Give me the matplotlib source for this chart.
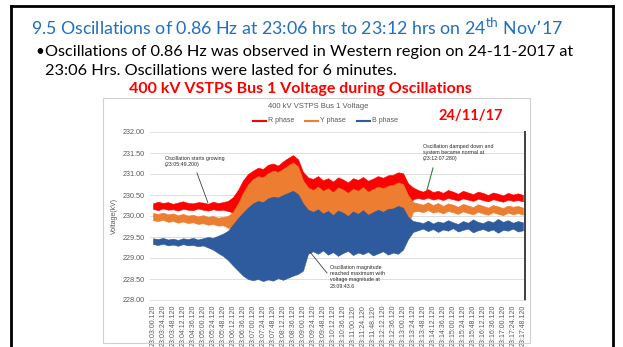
import matplotlib.pyplot as plt
from matplotlib.patches import Rectangle
from matplotlib.lines import Line2D
import numpy as np

W, H = 623, 347

# sample positions along the category axis (one unit per time label)
pos = np.arange(0, 37.01, 0.5)

# R phase envelope (kV)
r_hi = [230.30, 230.34, 230.31, 230.33, 230.29, 230.32, 230.35, 230.31, 230.30, 230.33,
        230.32, 230.29, 230.34, 230.31, 230.33,
        230.36, 230.45, 230.62, 230.85, 231.00, 231.08, 231.15, 231.12, 231.22, 231.25,
        231.20, 231.30, 231.38, 231.45, 231.35, 231.05, 230.92,
        230.88, 230.95, 230.85, 230.90, 230.82, 230.92, 230.87, 230.80, 230.90, 230.86,
        230.93, 230.84, 230.89, 230.95, 230.91, 230.97, 230.98, 231.04, 231.02, 230.78,
        230.68,
        230.62, 230.58, 230.64, 230.57, 230.60, 230.55, 230.62, 230.58, 230.53, 230.60,
        230.56, 230.52, 230.58, 230.55, 230.50, 230.56, 230.53, 230.49, 230.55, 230.51,
        230.54, 230.50]
r_lo = [230.17, 230.14, 230.18, 230.15, 230.16, 230.13, 230.17, 230.15, 230.14, 230.18,
        230.15, 230.13, 230.16, 230.14, 230.15,
        230.12, 230.08, 230.00, 229.95, 229.95, 229.95, 229.95, 229.95, 229.95, 229.95,
        229.95, 229.95, 229.95, 229.95, 229.95, 229.95, 229.95,
        229.95, 229.95, 229.95, 229.95, 229.95, 229.95, 229.95, 229.95, 229.95, 229.95,
        229.95, 229.95, 229.95, 229.95, 229.95, 229.95, 229.95, 229.95, 229.95, 230.10,
        230.40,
        230.43, 230.40, 230.44, 230.39, 230.42, 230.38, 230.43, 230.40, 230.37, 230.42,
        230.39, 230.36, 230.41, 230.38, 230.35, 230.40, 230.37, 230.34, 230.39, 230.36,
        230.38, 230.35]

# Y phase envelope (kV)
y_hi = [230.07, 230.05, 230.08, 230.04, 230.06, 230.02, 230.05, 230.01, 230.03, 229.99,
        230.02, 229.98, 230.00, 229.96, 229.98,
        230.00, 230.10, 230.30, 230.55, 230.75, 230.88, 230.95, 230.92, 231.02, 231.08,
        231.05, 231.12, 231.20, 231.28, 231.18, 230.85, 230.68,
        230.62, 230.70, 230.60, 230.66, 230.57, 230.68, 230.63, 230.55, 230.65, 230.60,
        230.69, 230.58, 230.64, 230.70, 230.66, 230.72, 230.74, 230.80, 230.76, 230.50,
        230.33,
        230.30, 230.27, 230.33, 230.26, 230.31, 230.24, 230.30, 230.27, 230.22, 230.29,
        230.25, 230.21, 230.28, 230.24, 230.20, 230.26, 230.23, 230.19, 230.25, 230.22,
        230.24, 230.20]
y_lo = [229.90, 229.88, 229.91, 229.86, 229.88, 229.84, 229.87, 229.83, 229.85, 229.81,
        229.83, 229.79, 229.81, 229.77, 229.78,
        229.72, 229.70, 229.68, 229.65, 229.65, 229.65, 229.65, 229.65, 229.65, 229.65,
        229.65, 229.65, 229.65, 229.65, 229.65, 229.65, 229.65,
        229.65, 229.65, 229.65, 229.65, 229.65, 229.65, 229.65, 229.65, 229.65, 229.65,
        229.65, 229.65, 229.65, 229.65, 229.65, 229.65, 229.65, 229.65, 229.65, 229.80,
        230.10,
        230.12, 230.09, 230.14, 230.08, 230.11, 230.06, 230.12, 230.09, 230.05, 230.11,
        230.07, 230.04, 230.10, 230.06, 230.03, 230.09, 230.05, 230.02, 230.08, 230.04,
        230.07, 230.03]

# B phase envelope (kV)
b_hi = [229.47, 229.45, 229.48, 229.44, 229.46, 229.43, 229.47, 229.45, 229.48, 229.44,
        229.47, 229.50, 229.48, 229.53, 229.58,
        229.65, 229.80, 229.95, 230.08, 230.20, 230.30, 230.36, 230.33, 230.42, 230.46,
        230.44, 230.50, 230.55, 230.60, 230.52, 230.30, 230.15,
        230.10, 230.16, 230.06, 230.12, 230.02, 230.13, 230.08, 230.00, 230.11, 230.05,
        230.14, 230.03, 230.09, 230.15, 230.10, 230.17, 230.18, 230.24, 230.20, 229.98,
        229.88,
        229.86, 229.83, 229.89, 229.82, 229.87, 229.84, 229.90, 229.85, 229.81, 229.88,
        229.84, 229.92, 229.86, 229.83, 229.89, 229.85, 229.93, 229.86, 229.90, 229.84,
        229.88, 229.85]
b_lo = [229.33, 229.31, 229.34, 229.30, 229.32, 229.29, 229.33, 229.30, 229.31, 229.28,
        229.30, 229.25, 229.20, 229.12, 229.05,
        228.95, 228.82, 228.70, 228.58, 228.50, 228.47, 228.50, 228.45, 228.49, 228.46,
        228.52, 228.48, 228.53, 228.58, 228.62, 228.70, 229.10,
        229.16, 229.10, 229.18, 229.08, 229.14, 229.05, 229.12, 229.17, 229.07, 229.13,
        229.09, 229.15, 229.06, 229.11, 229.16, 229.08, 229.13, 229.10, 229.20, 229.45,
        229.62,
        229.66, 229.70, 229.64, 229.69, 229.62, 229.68, 229.65, 229.71, 229.63, 229.67,
        229.70, 229.61, 229.66, 229.69, 229.64, 229.68, 229.60, 229.67, 229.65, 229.70,
        229.63, 229.66]

time_labels = ["23:03:00.120", "23:03:24.120", "23:03:48.120", "23:04:12.120", "23:04:36.120",
               "23:05:00.120", "23:05:24.120", "23:05:48.120", "23:06:12.120", "23:06:36.120",
               "23:07:00.120", "23:07:24.120", "23:07:48.120", "23:08:12.120", "23:08:36.120",
               "23:09:00.120", "23:09:24.120", "23:09:48.120", "23:10:12.120", "23:10:36.120",
               "23:11:00.120", "23:11:24.120", "23:11:48.120", "23:12:12.120", "23:12:36.120",
               "23:13:00.120", "23:13:24.120", "23:13:48.120", "23:14:12.120", "23:14:36.120",
               "23:15:00.120", "23:15:24.120", "23:15:48.120", "23:16:12.120", "23:16:36.120",
               "23:17:00.120", "23:17:24.120", "23:17:48.120"]
y_ticks = [228.0, 228.5, 229.0, 229.5, 230.0, 230.5, 231.0, 231.5, 232.0]

RED, ORANGE, BLUE = "#FF0000", "#ED7D31", "#2E5A9E"


def fx(x):
    return x / W


def fy(y):
    return 1 - y / H


fig = plt.figure(figsize=(W / 100, H / 100), dpi=100)
fig.patch.set_facecolor("white")

# slide frame
for (x0, y0, x1, y1) in [(11, 6, 11, 347), (11, 6, 613, 6), (613, 6, 613, 347)]:
    fig.add_artist(Line2D([fx(x0), fx(x1)], [fy(y0), fy(y1)], color="black", lw=2))

fig.text(fx(31), fy(27), "9.5 Oscillations of 0.86 Hz at 23:06 hrs to 23:12 hrs on 24$^{\\rm th}$ Nov\u201917",
         family="Lato", fontsize=12.8, color="#1F6FC2", va="center")
fig.text(fx(35), fy(52), "\u2022", family="Lato", fontsize=11, va="center")
fig.text(fx(45), fy(52), "Oscillations of 0.86 Hz was observed in Western region on 24-11-2017 at",
         family="Lato", fontsize=11.7, va="center")
fig.text(fx(45), fy(71), "23:06 Hrs. Oscillations were lasted for 6 minutes.",
         family="Lato", fontsize=11.7, va="center")
fig.text(fx(300), fy(89), "400 kV VSTPS Bus 1 Voltage during Oscillations", family="Lato",
         fontsize=11.5, fontweight="bold", color=RED, ha="center", va="center")

# chart box
fig.add_artist(Rectangle((fx(103), fy(343)), fx(427), 245 / H, transform=fig.transFigure,
                         fill=False, edgecolor="#D0D0D0", lw=0.8))

ax = fig.add_axes([fx(150), fy(300), fx(375), 168 / H])
ax.fill_between(pos, r_lo, r_hi, color=RED, lw=0.4, zorder=2)
ax.fill_between(pos, y_lo, y_hi, color=ORANGE, lw=0.4, zorder=3)
ax.fill_between(pos, b_lo, b_hi, color=BLUE, lw=0.4, zorder=4)
ax.set_xlim(-0.3, 37.2)
ax.set_ylim(228, 232)
ax.set_yticks(y_ticks)
ax.set_yticklabels([f"{v:.2f}" for v in y_ticks], family="Liberation Sans", fontsize=5.2, color="#595959")
ax.set_xticks(range(len(time_labels)))
ax.set_xticklabels(time_labels, rotation=90, family="Liberation Sans", fontsize=5, color="#595959")
ax.tick_params(length=0)
ax.tick_params(axis="x", pad=3.5)
ax.tick_params(axis="y", pad=4)
ax.grid(axis="y", color="#D9D9D9", lw=0.6, zorder=0)
for s in ["left", "top"]:
    ax.spines[s].set_visible(False)
ax.spines["bottom"].set_color("#D9D9D9")
ax.spines["bottom"].set_linewidth(0.6)
ax.spines["right"].set_color("#404040")
ax.spines["right"].set_linewidth(1.4)
ax.set_ylabel("Voltage(kV)", family="Liberation Sans", fontsize=5, color="#595959", labelpad=3)

fig.text(fx(318), fy(106), "400 kV VSTPS Bus 1 Voltage", family="Liberation Sans", fontsize=5.5,
         color="#595959", ha="center", va="center")
legend_items = [(253, RED, "R phase"), (305, ORANGE, "Y phase"), (357, BLUE, "B phase")]
for (lx, col, name) in legend_items:
    fig.add_artist(Line2D([fx(lx), fx(lx + 13)], [fy(121), fy(121)], color=col, lw=1.5))
    fig.text(fx(lx + 15), fy(121), name, family="Liberation Sans", fontsize=5, color="#595959", va="center")

fig.text(fx(471), fy(116), "24/11/17", family="Lato", fontsize=10.5, fontweight="bold",
         color=RED, ha="center", va="center")

# event notes
note_kw = dict(family="Liberation Sans", fontsize=3.8, color="#262626", va="top", linespacing=1.3)
fig.text(fx(165), fy(156), "Oscillation starts growing\n(23:05:49.200)", **note_kw)
fig.add_artist(Line2D([fx(197), fx(208)], [fy(173), fy(203)], color="#404040", lw=0.6))
fig.text(fx(423), fy(144), "Oscillation damped down and\nsystem became normal at\n(23:12:07.280)", **note_kw)
fig.add_artist(Line2D([fx(433), fx(427)], [fy(168), fy(190)], color="#3A7A3A", lw=0.8))
fig.text(fx(330), fy(265), "Oscillation magnitude\nreached maximum with\nvoltage magnitude at\n23:09:43.6", **note_kw)
fig.add_artist(Line2D([fx(310), fx(327)], [fy(252), fy(273)], color="#404040", lw=0.6))

fig.savefig("out.png", dpi=100)
